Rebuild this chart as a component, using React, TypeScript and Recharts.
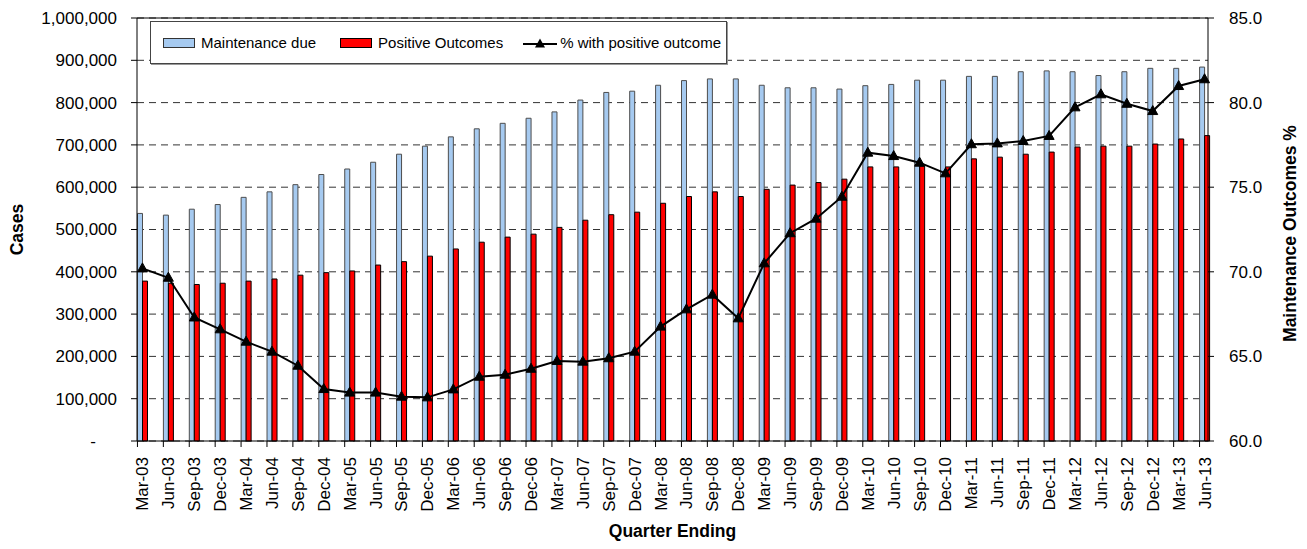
import React from 'react';
import {
  ComposedChart,
  Bar,
  Line,
  XAxis,
  YAxis,
  CartesianGrid,
  Legend,
  ReferenceLine,
} from 'recharts';

const quarters = [
  'Mar-03', 'Jun-03', 'Sep-03', 'Dec-03',
  'Mar-04', 'Jun-04', 'Sep-04', 'Dec-04',
  'Mar-05', 'Jun-05', 'Sep-05', 'Dec-05',
  'Mar-06', 'Jun-06', 'Sep-06', 'Dec-06',
  'Mar-07', 'Jun-07', 'Sep-07', 'Dec-07',
  'Mar-08', 'Jun-08', 'Sep-08', 'Dec-08',
  'Mar-09', 'Jun-09', 'Sep-09', 'Dec-09',
  'Mar-10', 'Jun-10', 'Sep-10', 'Dec-10',
  'Mar-11', 'Jun-11', 'Sep-11', 'Dec-11',
  'Mar-12', 'Jun-12', 'Sep-12', 'Dec-12',
  'Mar-13', 'Jun-13',
];

const maintenanceDue = [
  538000, 534000, 548000, 559000,
  576000, 589000, 606000, 630000,
  643000, 659000, 678000, 697000,
  719000, 738000, 751000, 763000,
  778000, 806000, 824000, 827000,
  841000, 852000, 856000, 856000,
  841000, 835000, 835000, 832000,
  840000, 843000, 853000, 853000,
  862000, 862000, 873000, 875000,
  873000, 864000, 873000, 881000,
  881000, 884000,
];

const positiveOutcomes = [
  378000, 373000, 370000, 373000,
  378000, 383000, 392000, 398000,
  402000, 416000, 424000, 437000,
  454000, 470000, 482000, 489000,
  505000, 522000, 535000, 541000,
  562000, 578000, 589000, 578000,
  595000, 605000, 611000, 619000,
  648000, 648000, 650000, 648000,
  667000, 671000, 678000, 683000,
  695000, 697000, 697000, 702000,
  714000, 722000,
];

const pctPositive = [
  70.2, 69.65, 67.3, 66.6,
  65.87, 65.28, 64.45, 63.07,
  62.86, 62.86, 62.62, 62.58,
  63.05, 63.8, 63.92, 64.27,
  64.73, 64.69, 64.89, 65.28,
  66.76, 67.78, 68.65, 67.25,
  70.5, 72.28, 73.14, 74.44,
  77.04, 76.84, 76.45, 75.82,
  77.54, 77.59, 77.73, 78.03,
  79.72, 80.49, 79.93, 79.5,
  80.98, 81.38,
];

const leftTicks = [0, 100000, 200000, 300000, 400000, 500000, 600000, 700000, 800000, 900000, 1000000];
const rightTicks = [60, 65, 70, 75, 80, 85];

const data = quarters.map((q, i) => ({
  quarter: q,
  due: maintenanceDue[i],
  positive: positiveOutcomes[i],
  pct: pctPositive[i],
}));

const FONT = '"Liberation Sans", Arial, Helvetica, sans-serif';
const TICK_SIZE = 6;
const X_TICK_MARGIN = 10;

const XTick = (props: any) => {
  const { x, y, payload } = props;
  return (
    <g transform={`translate(${x},${y})`}>
      <line
        x1={-5}
        x2={-5}
        y1={-(TICK_SIZE + X_TICK_MARGIN)}
        y2={-X_TICK_MARGIN}
        stroke="#000"
        strokeWidth={1}
      />
      <text
        transform="rotate(-90)"
        textAnchor="end"
        dy="0.35em"
        fontSize={17}
        fontFamily={FONT}
        fill="#000"
      >
        {payload.value}
      </text>
    </g>
  );
};

const LeftTick = (props: any) => {
  const { x, y, payload } = props;
  const v = payload.value as number;
  const label = v === 0 ? '-' : v.toLocaleString('en-US');
  return (
    <text
      x={v === 0 ? x - 21 : x}
      y={y}
      dy="0.35em"
      textAnchor="end"
      fontSize={17}
      fontFamily={FONT}
      fill="#000"
    >
      {label}
    </text>
  );
};

const RightTick = (props: any) => {
  const { x, y, payload } = props;
  return (
    <text
      x={x}
      y={y}
      dy="0.35em"
      textAnchor="start"
      fontSize={17}
      fontFamily={FONT}
      fill="#000"
    >
      {(payload.value as number).toFixed(1)}
    </text>
  );
};

const TriangleDot = (props: any) => {
  const { cx, cy } = props;
  if (cx == null || cy == null) return null;
  return (
    <path
      d={`M${cx},${cy - 5.5} L${cx + 5},${cy + 3.5} L${cx - 5},${cy + 3.5} Z`}
      fill="#000"
      stroke="#000"
      strokeWidth={1}
    />
  );
};

const renderLegend = () => (
  <div
    style={{
      width: '100%',
      height: '100%',
      boxSizing: 'border-box',
      border: '1px solid #444',
      boxShadow: '1px 1px 0 #999',
      background: '#fff',
      display: 'flex',
      alignItems: 'center',
      paddingLeft: 12,
      fontFamily: FONT,
      fontSize: 15,
      color: '#000',
      whiteSpace: 'nowrap',
    }}
  >
    <span
      style={{
        display: 'inline-block',
        width: 30,
        height: 8,
        background: '#A6CAF0',
        border: '1px solid #333',
        marginRight: 6,
      }}
    />
    <span style={{ marginRight: 24 }}>Maintenance due</span>
    <span
      style={{
        display: 'inline-block',
        width: 30,
        height: 8,
        background: '#FF0000',
        border: '1px solid #000',
        marginRight: 6,
      }}
    />
    <span style={{ marginRight: 20 }}>Positive Outcomes</span>
    <svg width={34} height={12} style={{ marginRight: 3 }}>
      <line x1={0} x2={34} y1={7} y2={7} stroke="#000" strokeWidth={2} />
      <path d="M17,1.5 L22,10.5 L12,10.5 Z" fill="#000" />
    </svg>
    <span>% with positive outcome</span>
  </div>
);

const LeftTitle = (props: any) => {
  const vb = props.viewBox;
  const cx = vb.x + 8.5;
  const cy = vb.y + vb.height / 2;
  return (
    <text
      x={cx}
      y={cy}
      transform={`rotate(-90, ${cx}, ${cy})`}
      textAnchor="middle"
      dy="0.35em"
      fontSize={17.5}
      fontWeight="bold"
      fontFamily={FONT}
      fill="#000"
    >
      Cases
    </text>
  );
};

const RightTitle = (props: any) => {
  const vb = props.viewBox;
  const cx = vb.x + 82;
  const cy = vb.y + vb.height / 2 + 4;
  return (
    <text
      x={cx}
      y={cy}
      transform={`rotate(-90, ${cx}, ${cy})`}
      textAnchor="middle"
      dy="0.35em"
      fontSize={17.5}
      fontWeight="bold"
      fontFamily={FONT}
      fill="#000"
    >
      Maintenance Outcomes %
    </text>
  );
};

const BottomTitle = (props: any) => {
  const vb = props.viewBox;
  return (
    <text
      x={vb.x + vb.width / 2}
      y={vb.y + 96}
      textAnchor="middle"
      fontSize={17.5}
      fontWeight="bold"
      fontFamily={FONT}
      fill="#000"
    >
      Quarter Ending
    </text>
  );
};

export default function App() {
  return (
    <div style={{ marginBottom: -8, background: '#fff' }}>
      <ComposedChart
        width={1291}
        height={541}
        data={data}
        margin={{ top: 10, right: 0, bottom: 0, left: 0 }}
        barGap={0}
      >
        <CartesianGrid
          yAxisId="left"
          vertical={false}
          stroke="#333"
          strokeDasharray="7 5"
        />
        <XAxis
          dataKey="quarter"
          height={108}
          interval={0}
          padding={{ left: -7.5, right: -9.5 }}
          tickLine={false}
          tickSize={TICK_SIZE}
          tickMargin={X_TICK_MARGIN}
          tick={<XTick />}
          axisLine={{ stroke: '#000' }}
          label={{ content: <BottomTitle /> }}
        />
        <YAxis
          yAxisId="left"
          orientation="left"
          width={129}
          domain={[0, 1000000]}
          ticks={leftTicks}
          interval={0}
          tickSize={TICK_SIZE}
          tickMargin={14}
          tick={<LeftTick />}
          axisLine={{ stroke: '#000' }}
          tickLine={{ stroke: '#000' }}
          label={{ content: <LeftTitle /> }}
        />
        <YAxis
          yAxisId="right"
          orientation="right"
          width={91}
          domain={[60, 85]}
          ticks={rightTicks}
          interval={0}
          tickSize={TICK_SIZE}
          tickMargin={15}
          tick={<RightTick />}
          axisLine={{ stroke: '#000' }}
          tickLine={{ stroke: '#000' }}
          label={{ content: <RightTitle /> }}
        />
        <ReferenceLine yAxisId="left" y={1000000} stroke="#000" strokeWidth={1} />
        <Legend
          layout="horizontal"
          verticalAlign="middle"
          align="center"
          content={renderLegend}
          wrapperStyle={{ top: 13, left: 142, width: 577, height: 43 }}
        />
        <Bar
          yAxisId="left"
          dataKey="due"
          name="Maintenance due"
          barSize={5}
          fill="#A6CAF0"
          stroke="#4D4D4D"
          strokeWidth={1}
          isAnimationActive={false}
        />
        <Bar
          yAxisId="left"
          dataKey="positive"
          name="Positive Outcomes"
          barSize={5}
          fill="#FF0000"
          stroke="#000"
          strokeWidth={1}
          isAnimationActive={false}
        />
        <Line
          yAxisId="right"
          dataKey="pct"
          name="% with positive outcome"
          type="linear"
          stroke="#000"
          strokeWidth={2}
          dot={<TriangleDot />}
          activeDot={false}
          isAnimationActive={false}
        />
      </ComposedChart>
    </div>
  );
}
